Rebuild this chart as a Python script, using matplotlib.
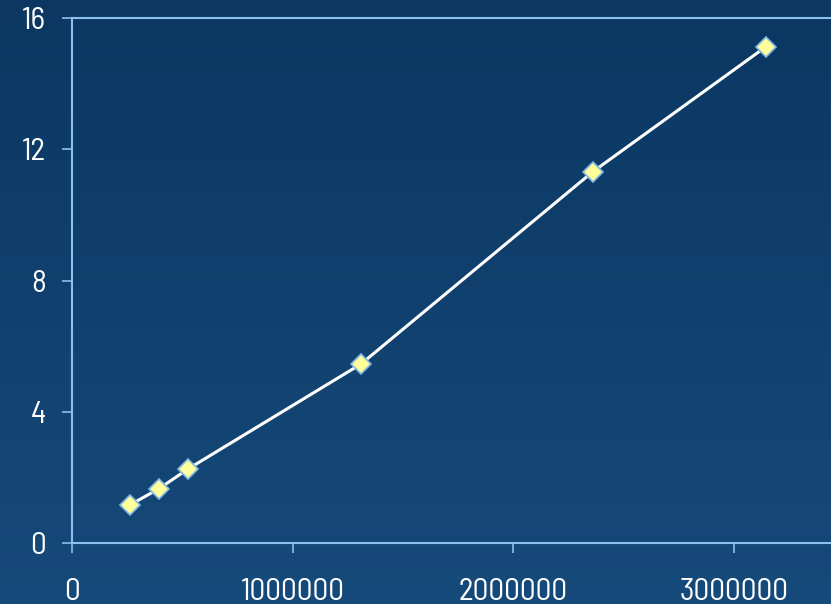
import matplotlib
matplotlib.use("Agg")
import matplotlib.pyplot as plt
import numpy as np
from matplotlib.colors import LinearSegmentedColormap

# image size in pixels vs. processing time
pixels = [262144, 393216, 524288, 1310720, 2359296, 3145728]
seconds = [1.16, 1.65, 2.25, 5.46, 11.31, 15.13]
x_ticks = [0, 1000000, 2000000, 3000000]
y_ticks = [0, 4, 8, 12, 16]

plt.rcParams["font.family"] = ["Barlow Semi Condensed", "DejaVu Sans"]
plt.rcParams["font.weight"] = 400

W, H, DPI = 831, 604, 100
fig = plt.figure(figsize=(W / DPI, H / DPI), dpi=DPI)

# background vertical gradient
bg = fig.add_axes([0, 0, 1, 1], zorder=-10)
cmap = LinearSegmentedColormap.from_list("bg", ["#0b3762", "#164a7a"])
bg.imshow(np.linspace(0, 1, 256).reshape(-1, 1), aspect="auto", cmap=cmap,
          extent=[0, 1, 0, 1], origin="upper")
bg.set_axis_off()

x0, x1 = 0, 3500000
left, top, bottom = 72, 18, 543
px_per_unit = (734 - 72) / 3000000
width_px = (x1 - x0) * px_per_unit
ax = fig.add_axes([left / W, (H - bottom) / H, width_px / W, (bottom - top) / H])
ax.patch.set_alpha(0)

axis_col = "#8ec0ef"
ax.plot(pixels, seconds, color="white", lw=2.2, zorder=3,
        marker="D", markersize=10, markerfacecolor="#ffff99",
        markeredgecolor="#7fb4e6", markeredgewidth=1.2)

ax.set_xlim(x0, x1)
ax.set_ylim(0, 16)
ax.set_xticks(x_ticks)
ax.set_xticklabels([str(v) for v in x_ticks])
ax.set_yticks(y_ticks)
ax.set_yticklabels([str(v) for v in y_ticks])

ax.spines["right"].set_visible(False)
for s in ["left", "bottom", "top"]:
    ax.spines[s].set_color(axis_col)
    ax.spines[s].set_linewidth(1.5)

ax.tick_params(axis="both", colors=axis_col, labelcolor="white",
               labelsize=22.5, width=1.2, direction="out")
ax.tick_params(axis="y", length=7, pad=12)
ax.tick_params(axis="x", length=7, pad=18)

fig.savefig("out.png", dpi=DPI)
